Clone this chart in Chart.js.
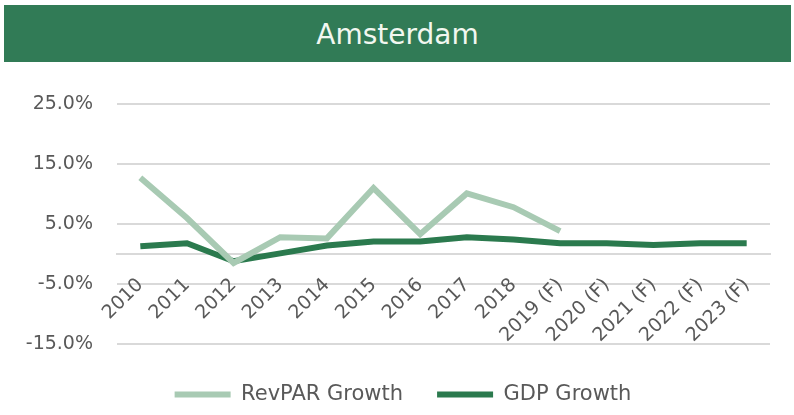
<!DOCTYPE html>
<html>
<head>
<meta charset="utf-8">
<script src="https://cdn.jsdelivr.net/npm/chart.js@4/dist/chart.umd.min.js"></script>
<style>
	html, body { margin: 0; padding: 0; background: #fff; }
	#wrap { position: relative; width: 794px; height: 415px; }
	#header {
		position: absolute; left: 4px; top: 5px; width: 787px; height: 57px;
		background: #317b56; color: #f2f7f0;
		font-family: "DejaVu Sans", sans-serif;
		font-size: 28px; line-height: 60px; text-align: center;
	}
	#chart { position: absolute; left: 0; top: 0; }
</style>
</head>
<body>
<div id="wrap">
	<canvas id="chart" width="794" height="415"></canvas>
	<div id="header">Amsterdam</div>
</div>
<script>
var years = ["2010", "2011", "2012", "2013", "2014", "2015", "2016", "2017", "2018",
	"2019 (F)", "2020 (F)", "2021 (F)", "2022 (F)", "2023 (F)"];
// RevPAR only runs to 2019 (F)
var revparGrowth = [12.7, 6.0, -1.5, 2.8, 2.6, 11.0, 3.3, 10.1, 7.8, 3.8, null, null, null, null];
var gdpGrowth = [1.3, 1.8, -1.2, 0.1, 1.4, 2.1, 2.1, 2.8, 2.4, 1.8, 1.8, 1.5, 1.8, 1.8];
var yTicks = [-15, -5, 5, 15, 25];

var fontFamily = '"DejaVu Sans", sans-serif';
var textColor = "#595959";

// empty axes used only as spacers around the plot
function spacer(pos, size) {
	return {
		type : 'linear',
		position : pos,
		display : true,
		grid : { display : false, drawTicks : false },
		border : { display : false },
		ticks : { display : false },
		afterFit : function(scale) {
			if (scale.isHorizontal()) {
				scale.height = size;
			} else {
				scale.width = size;
			}
		}
	};
}

var config = {
	type : 'line',
	data : {
		labels : years,
		datasets : [ {
			label : "RevPAR Growth",
			data : revparGrowth,
			borderColor : "#a8cab3",
			backgroundColor : "#a8cab3",
			borderWidth : 6,
			pointRadius : 0,
			tension : 0
		}, {
			label : "GDP Growth",
			data : gdpGrowth,
			borderColor : "#2b7a4e",
			backgroundColor : "#2b7a4e",
			borderWidth : 6,
			pointRadius : 0,
			tension : 0
		} ]
	},
	options : {
		responsive : false,
		animation : false,
		layout : {
			padding : { top : 104, right : 0, bottom : 0, left : 12 }
		},
		plugins : {
			title : { display : false },
			tooltip : { enabled : false },
			legend : {
				position : 'bottom',
				labels : {
					usePointStyle : true,
					pointStyle : 'line',
					pointStyleWidth : 56,
					boxHeight : 6,
					padding : 34,
					color : textColor,
					font : { family : fontFamily, size : 21 }
				}
			}
		},
		scales : {
			x : {
				offset : true,
				position : { y : 0 },
				grid : { display : false, drawTicks : false },
				border : { display : true, color : "#d9d9d9", width : 2 },
				ticks : {
					autoSkip : false,
					minRotation : 45,
					maxRotation : 45,
					padding : 20,
					color : textColor,
					font : { family : fontFamily, size : 19 }
				}
			},
			y : {
				min : -15,
				max : 25,
				afterBuildTicks : function(scale) {
					scale.ticks = yTicks.map(function(v) { return { value : v }; });
				},
				afterFit : function(scale) {
					scale.width = 105;
				},
				grid : { color : "#d9d9d9", lineWidth : 2, drawTicks : false },
				border : { display : false },
				ticks : {
					padding : 24,
					color : textColor,
					font : { family : fontFamily, size : 19 },
					callback : function(value) {
						return value.toFixed(1) + "%";
					}
				}
			},
			padRight : spacer('right', 24),
			padBottom : spacer('bottom', 6)
		}
	}
};

var ctx = document.getElementById("chart").getContext("2d");
new Chart(ctx, config);
</script>
</body>
</html>
